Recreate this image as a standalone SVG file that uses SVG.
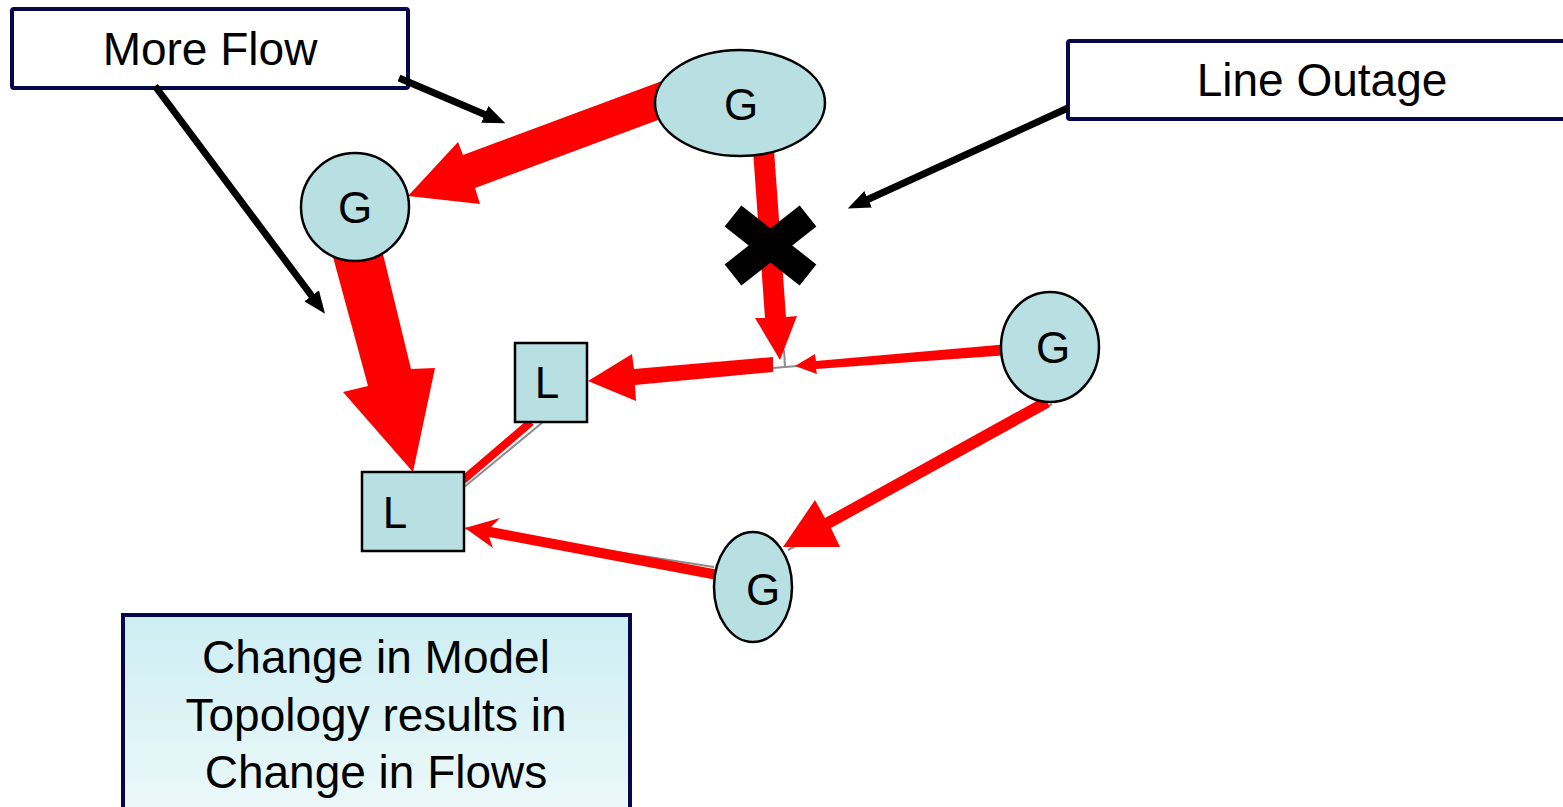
<svg xmlns="http://www.w3.org/2000/svg" width="1563" height="807" viewBox="0 0 1563 807">
<style>
.flow{fill:#ff0000;stroke:none}
.wire{stroke:#8c8c8c;stroke-width:2;fill:none}
.redline{stroke:#ff0000;stroke-width:8;fill:none}
.node{fill:#b8dfe2;stroke:#000;stroke-width:2.5}
.lbl{font-family:"Liberation Sans",Arial,sans-serif;font-size:44px;fill:#000;text-anchor:middle}
.call{fill:#fff;stroke:#06064a;stroke-width:4}
.ctext{font-family:"Liberation Sans",Arial,sans-serif;font-size:46px;fill:#000;text-anchor:middle}
.ptr{stroke:#000;stroke-width:7;fill:none;marker-end:url(#ah)}
</style>
<defs>
<marker id="ah" viewBox="0 0 10 10" refX="4" refY="5" markerWidth="3.2" markerHeight="2.6" preserveAspectRatio="none" orient="auto">
<path d="M0,0 L10,5 L0,10 z" fill="#000"/>
</marker>
<linearGradient id="boxg" x1="0" y1="0" x2="0" y2="1">
<stop offset="0" stop-color="#cdeef3"/>
<stop offset="1" stop-color="#eef9fa"/>
</linearGradient>
</defs>
<rect width="1563" height="807" fill="#fff"/>
<g id="connectors">
<line class="wire" x1="784" y1="350" x2="785" y2="367"/>
<line class="wire" x1="773" y1="368" x2="797" y2="366"/>
<line class="wire" x1="1052" y1="404" x2="788" y2="550"/>
<line class="wire" x1="714" y1="567" x2="463" y2="528"/>
<line class="wire" x1="543" y1="422" x2="463" y2="488"/>
<polygon class="flow" points="662,81 463,155 458,142 408,196 480,204 475,188 658,120"/>
<polygon class="flow" points="333,257 383,254 411,369 435,368 413,472 343,392 368,386"/>
<polygon class="flow" points="753,150 774,150 786,317 797,316 780,360 755,318 765,318"/>
<polygon class="flow" points="773,357 634,369 632,354 588,381 636,401 635,385 773,372"/>
<polygon class="flow" points="1009,344 816,361 815,354 795,366 817,374 816,369 1009,355"/>
<polygon class="flow" points="1044,397 825,518 815,500 783,547 840,547 831,528 1050,407"/>
<polygon class="flow" points="719,570 491,527 500,518 465,528 493,548 489,537 717,580"/>
<line class="redline" x1="531" y1="422" x2="462" y2="481"/>
</g>
<g id="node-g1"><ellipse class="node" cx="740" cy="103" rx="85" ry="53"/><text class="lbl" x="741" y="120">G</text></g>
<g id="node-g2"><circle class="node" cx="355" cy="207" r="54"/><text class="lbl" x="355" y="223">G</text></g>
<g id="node-g3"><ellipse class="node" cx="1050" cy="347" rx="49" ry="55"/><text class="lbl" x="1053" y="363">G</text></g>
<g id="node-g4"><ellipse class="node" cx="753" cy="587" rx="39" ry="55"/><text class="lbl" x="763" y="605">G</text></g>
<g id="node-l1"><rect class="node" x="515" y="343" width="72" height="79" stroke-width="3"/><text class="lbl" x="547" y="398">L</text></g>
<g id="node-l2"><rect class="node" x="362" y="472" width="102" height="79" stroke-width="3"/><text class="lbl" x="395" y="528">L</text></g>
<g id="outage-x">
<line x1="733" y1="216" x2="808" y2="275" stroke="#000" stroke-width="27"/>
<line x1="808" y1="216" x2="733" y2="275" stroke="#000" stroke-width="27"/>
</g>
<g id="label-more-flow"><rect class="call" x="12" y="9" width="396" height="79" rx="2"/><text class="ctext" x="210" y="65">More Flow</text></g>
<g id="label-line-outage"><rect class="call" x="1068" y="41" width="520" height="78" rx="2"/><text class="ctext" x="1322" y="96">Line Outage</text></g>
<g id="label-change">
<rect x="123" y="615" width="507" height="210" fill="url(#boxg)" stroke="#06064a" stroke-width="4"/>
<text class="ctext" font-size="47" x="376" y="673">Change in Model</text>
<text class="ctext" font-size="47" x="376" y="731">Topology results in</text>
<text class="ctext" font-size="47" x="376" y="788">Change in Flows</text>
</g>
<g id="pointers">
<line class="ptr" x1="155" y1="86" x2="317" y2="303"/>
<line class="ptr" x1="399" y1="78" x2="493" y2="118"/>
<line class="ptr" x1="1068" y1="108" x2="860" y2="203"/>
</g>
</svg>
